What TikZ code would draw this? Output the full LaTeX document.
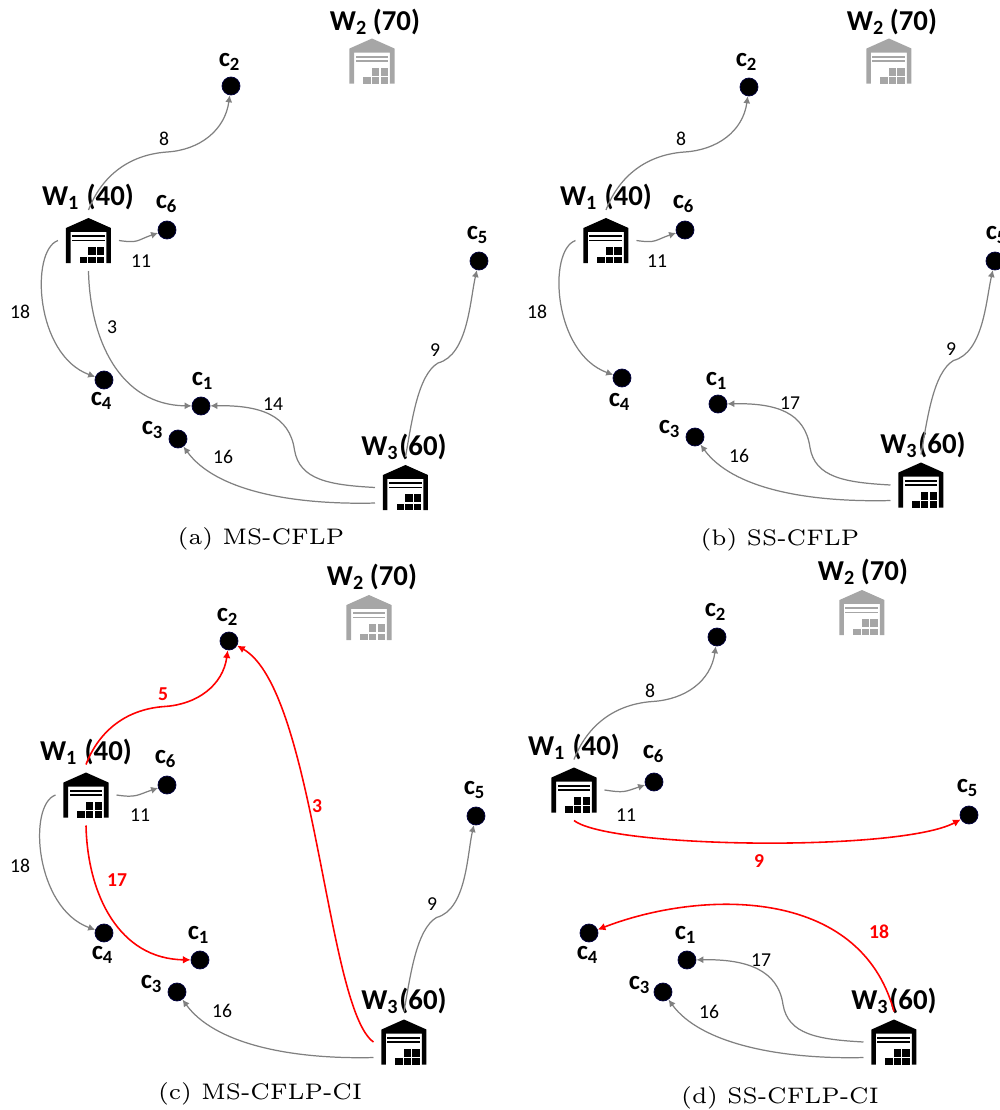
\documentclass[tikz,border=0pt]{standalone}
\usepackage{fontspec}
\usepackage{xcolor}
\usepackage{tikz}
\usetikzlibrary{arrows.meta}
\newfontfamily\diagramfont{Carlito}

\begin{document}
\begin{tikzpicture}[
    every node/.style={inner sep=0pt},
    wlabel/.style={font=\diagramfont\bfseries\fontsize{8.2}{10}\selectfont},
    clabel/.style={font=\diagramfont\bfseries\fontsize{7.6}{9}\selectfont},
    flow/.style={font=\diagramfont\fontsize{5.6}{7}\selectfont},
    redflow/.style={flow, red, font=\diagramfont\bfseries\fontsize{5.6}{7}\selectfont},
    caption/.style={font=\fontsize{6.4}{8}\selectfont},
    customer/.style={circle, fill=black, draw=blue!25!black, line width=0.2pt, minimum size=0.18cm},
    store/.style={minimum width=0.45cm, minimum height=0.45cm, outer sep=0.08cm},
    ship/.style={gray, line width=0.35pt, -{Latex[length=2pt,width=2pt]}},
    redship/.style={red, line width=0.45pt, -{Latex[length=2.2pt,width=2.2pt]}},
    closed/.style={fill=black!35},
    open/.style={fill=black},
    pics/warehouse/.style={code={
        \path[pic actions] (-.225,-.225) -- (-.225,.125) -- (0,.225) -- (.225,.125) -- (.225,-.225)
            -- (.18,-.225) -- (.18,.085) -- (-.18,.085) -- (-.18,-.225) -- cycle;
        \path[pic actions] (-.165,.035) rectangle (.165,.055);
        \path[pic actions] (-.165,-.01) rectangle (.165,.01);
        \foreach \x in {-.085,0,.085} {
            \path[pic actions] (\x,-.225) rectangle +(.075,.065);
        }
        \foreach \x in {0,.085} {
            \path[pic actions] (\x,-.15) rectangle +(.075,.08);
        }
    }},
]
\useasboundingbox (0,0) rectangle (10,11.1);

% =====================================================================
% PANEL A: MS-CFLP
% =====================================================================
\begin{scope}[name prefix=a-]
\node[wlabel] (lw2) at (3.75,10.88) {W\textsubscript{2}\,(70)};
\node[store] (w2) at (3.72,10.49) {};
\pic[closed] at (w2) {warehouse};
\node[wlabel] (lw1) at (0.88,9.13) {W\textsubscript{1} (40)};
\node[store] (w1) at (0.885,8.695) {};
\pic[open] at (w1) {warehouse};
\node[wlabel] (lw3) at (4.04,6.63) {W\textsubscript{3}(60)};
\node[store] (w3) at (4.055,6.225) {};
\pic[open] at (w3) {warehouse};

\node[customer] (c1) at (2.01,7.04) {};
\node[customer] (c2) at (2.31,10.24) {};
\node[customer] (c3) at (1.78,6.71) {};
\node[customer] (c4) at (1.04,7.30) {};
\node[customer] (c5) at (4.79,8.49) {};
\node[customer] (c6) at (1.67,8.80) {};
\node[clabel] (lc1) at (2.03,7.29) {c\textsubscript{1}};
\node[clabel] (lc2) at (2.30,10.48) {c\textsubscript{2}};
\node[clabel] (lc3) at (1.53,6.80) {c\textsubscript{3}};
\node[clabel] (lc4) at (1.02,7.09) {c\textsubscript{4}};
\node[clabel] (lc5) at (4.78,8.75) {c\textsubscript{5}};
\node[clabel] (lc6) at (1.67,9.06) {c\textsubscript{6}};

\draw[ship] (w1.north) .. controls +(.115,.3) and +(-.42,-.03) .. +(.785,.58)
    .. controls +(.33,.02) and +(-.06,-.44) .. (c2);
\draw[ship] (w1.east) .. controls +(.2,-.03) and +(-.3,-.1) .. (c6);
\draw[ship] (w1.west) .. controls +(-.28,-.1) and +(-.69,.25) .. (c4);
\draw[ship] (w1.south) .. controls +(.015,-.69) and +(-.81,.01) .. (c1);
\draw[ship] (w3.180) .. controls +(-.455,.025) and +(.05,-.3) .. +(-.805,.375)
    .. controls +(-.05,.35) and +(.59,.01) .. (c1);
\draw[ship] (w3.207) .. controls +(-.855,-.02) and +(.37,-.51) .. (c3);
\draw[ship] (w3.north) .. controls +(.065,.37) and +(-.2,-.12) .. +(.325,.94)
    .. controls +(.3,.08) and +(-.09,-.39) .. (c5);

\node[flow] (f8) at (1.64,9.71) {8};
\node[flow] (f11) at (1.41,8.49) {11};
\node[flow] (f18) at (0.20,7.98) {18};
\node[flow] (f3) at (1.12,7.83) {3};
\node[flow] (f14) at (2.73,7.06) {14};
\node[flow] (f16) at (2.23,6.53) {16};
\node[flow] (f9) at (4.35,7.60) {9};
\node[caption] (cap) at (2.61,5.71) {(a) MS-CFLP};
\end{scope}

% =====================================================================
% PANEL B: SS-CFLP
% =====================================================================
\begin{scope}[name prefix=b-]
\node[wlabel] (lw2) at (8.92,10.88) {W\textsubscript{2}\,(70)};
\node[store] (w2) at (8.89,10.49) {};
\pic[closed] at (w2) {warehouse};
\node[wlabel] (lw1) at (6.06,9.13) {W\textsubscript{1} (40)};
\node[store] (w1) at (6.06,8.695) {};
\pic[open] at (w1) {warehouse};
\node[wlabel] (lw3) at (9.23,6.65) {W\textsubscript{3}(60)};
\node[store] (w3) at (9.21,6.25) {};
\pic[open] at (w3) {warehouse};

\node[customer] (c1) at (7.18,7.06) {};
\node[customer] (c2) at (7.49,10.23) {};
\node[customer] (c3) at (6.95,6.73) {};
\node[customer] (c4) at (6.22,7.32) {};
\node[customer] (c5) at (9.95,8.49) {};
\node[customer] (c6) at (6.85,8.80) {};
\node[clabel] (lc1) at (7.17,7.29) {c\textsubscript{1}};
\node[clabel] (lc2) at (7.47,10.48) {c\textsubscript{2}};
\node[clabel] (lc3) at (6.70,6.81) {c\textsubscript{3}};
\node[clabel] (lc4) at (6.20,7.08) {c\textsubscript{4}};
\node[clabel] (lc5) at (9.97,8.75) {c\textsubscript{5}};
\node[clabel] (lc6) at (6.84,9.06) {c\textsubscript{6}};

\draw[ship] (w1.north) .. controls +(.115,.3) and +(-.42,-.03) .. +(.785,.58)
    .. controls +(.33,.02) and +(-.06,-.44) .. (c2);
\draw[ship] (w1.east) .. controls +(.2,-.03) and +(-.3,-.1) .. (c6);
\draw[ship] (w1.west) .. controls +(-.28,-.1) and +(-.69,.25) .. (c4);
\draw[ship] (w3.180) .. controls +(-.455,.025) and +(.05,-.3) .. +(-.805,.375)
    .. controls +(-.05,.35) and +(.59,.01) .. (c1);
\draw[ship] (w3.207) .. controls +(-.855,-.02) and +(.37,-.51) .. (c3);
\draw[ship] (w3.north) .. controls +(.065,.37) and +(-.2,-.12) .. +(.325,.94)
    .. controls +(.3,.08) and +(-.09,-.39) .. (c5);

\node[flow] (f8) at (6.81,9.71) {8};
\node[flow] (f11) at (6.57,8.49) {11};
\node[flow] (f18) at (5.37,7.98) {18};
\node[flow] (f17) at (7.90,7.07) {17};
\node[flow] (f16) at (7.39,6.54) {16};
\node[flow] (f9) at (9.51,7.61) {9};
\node[caption] (cap) at (7.80,5.70) {(b) SS-CFLP};
\end{scope}

% =====================================================================
% PANEL C: MS-CFLP-CI
% =====================================================================
\begin{scope}[name prefix=c-]
\node[wlabel] (lw2) at (3.72,5.33) {W\textsubscript{2}\,(70)};
\node[store] (w2) at (3.69,4.925) {};
\pic[closed] at (w2) {warehouse};
\node[wlabel] (lw1) at (0.86,3.58) {W\textsubscript{1} (40)};
\node[store] (w1) at (0.86,3.15) {};
\pic[open] at (w1) {warehouse};
\node[wlabel] (lw3) at (4.04,1.09) {W\textsubscript{3}(60)};
\node[store] (w3) at (4.04,0.68) {};
\pic[open] at (w3) {warehouse};

\node[customer] (c1) at (2.00,1.50) {};
\node[customer] (c2) at (2.29,4.69) {};
\node[customer] (c3) at (1.77,1.18) {};
\node[customer] (c4) at (1.04,1.77) {};
\node[customer] (c5) at (4.76,2.94) {};
\node[customer] (c6) at (1.67,3.25) {};
\node[clabel] (lc1) at (1.99,1.75) {c\textsubscript{1}};
\node[clabel] (lc2) at (2.28,4.93) {c\textsubscript{2}};
\node[clabel] (lc3) at (1.52,1.26) {c\textsubscript{3}};
\node[clabel] (lc4) at (1.03,1.55) {c\textsubscript{4}};
\node[clabel] (lc5) at (4.75,3.20) {c\textsubscript{5}};
\node[clabel] (lc6) at (1.66,3.51) {c\textsubscript{6}};

\draw[redship] (w1.north) .. controls +(.115,.3) and +(-.42,-.03) .. +(.785,.58)
    .. controls +(.33,.02) and +(-.06,-.44) .. (c2);
\draw[ship] (w1.east) .. controls +(.2,-.03) and +(-.3,-.1) .. (c6);
\draw[ship] (w1.west) .. controls +(-.28,-.1) and +(-.69,.25) .. (c4);
\draw[redship] (w1.south) .. controls +(.015,-.69) and +(-.81,.01) .. (c1);
\draw[redship] (w3.west) .. controls +(-.47,.33) and +(.86,-.49) .. (c2);
\draw[ship] (w3.207) .. controls +(-.855,-.02) and +(.37,-.51) .. (c3);
\draw[ship] (w3.north) .. controls +(.065,.37) and +(-.2,-.12) .. +(.325,.94)
    .. controls +(.3,.08) and +(-.09,-.39) .. (c5);

\node[redflow] (f5) at (1.63,4.16) {5};
\node[flow] (f11) at (1.40,2.95) {11};
\node[flow] (f18) at (0.20,2.44) {18};
\node[redflow] (f17) at (1.17,2.30) {17};
\node[redflow] (f3) at (3.17,3.04) {3};
\node[flow] (f9) at (4.32,2.06) {9};
\node[flow] (f16) at (2.22,0.99) {16};
\node[caption] (cap) at (2.60,0.16) {(c) MS-CFLP-CI};
\end{scope}

% =====================================================================
% PANEL D: SS-CFLP-CI
% =====================================================================
\begin{scope}[name prefix=d-]
\node[wlabel] (lw2) at (8.63,5.38) {W\textsubscript{2}\,(70)};
\node[store] (w2) at (8.62,4.975) {};
\pic[closed] at (w2) {warehouse};
\node[wlabel] (lw1) at (5.74,3.63) {W\textsubscript{1} (40)};
\node[store] (w1) at (5.74,3.20) {};
\pic[open] at (w1) {warehouse};
\node[wlabel] (lw3) at (8.94,1.09) {W\textsubscript{3}(60)};
\node[store] (w3) at (8.94,0.68) {};
\pic[open] at (w3) {warehouse};

\node[customer] (c1) at (6.87,1.50) {};
\node[customer] (c2) at (7.17,4.73) {};
\node[customer] (c3) at (6.63,1.18) {};
\node[customer] (c4) at (5.89,1.77) {};
\node[customer] (c5) at (9.69,2.95) {};
\node[customer] (c6) at (6.54,3.28) {};
\node[clabel] (lc1) at (6.86,1.75) {c\textsubscript{1}};
\node[clabel] (lc2) at (7.16,4.98) {c\textsubscript{2}};
\node[clabel] (lc3) at (6.40,1.25) {c\textsubscript{3}};
\node[clabel] (lc4) at (5.88,1.55) {c\textsubscript{4}};
\node[clabel] (lc5) at (9.68,3.22) {c\textsubscript{5}};
\node[clabel] (lc6) at (6.54,3.56) {c\textsubscript{6}};

\draw[ship] (w1.north) .. controls +(.115,.3) and +(-.42,-.03) .. +(.785,.58)
    .. controls +(.33,.02) and +(-.06,-.44) .. (c2);
\draw[ship] (w1.east) .. controls +(.2,-.03) and +(-.3,-.1) .. (c6);
\draw[redship] (w1.south) .. controls +(.36,-.28) and +(-.69,-.37) .. (c5);
\draw[redship] (w3.north) .. controls +(-.34,1.26) and +(1.11,.43) .. (c4);
\draw[ship] (w3.180) .. controls +(-.455,.025) and +(.05,-.3) .. +(-.805,.375)
    .. controls +(-.05,.35) and +(.59,.01) .. (c1);
\draw[ship] (w3.207) .. controls +(-.855,-.02) and +(.37,-.51) .. (c3);

\node[flow] (f8) at (6.50,4.19) {8};
\node[flow] (f11) at (6.26,2.95) {11};
\node[redflow] (f9) at (7.59,2.49) {9};
\node[redflow] (f18) at (8.79,1.78) {18};
\node[flow] (f17) at (7.61,1.50) {17};
\node[flow] (f16) at (7.09,0.98) {16};
\node[caption] (cap) at (7.80,0.12) {(d) SS-CFLP-CI};
\end{scope}

\end{tikzpicture}
\end{document}
